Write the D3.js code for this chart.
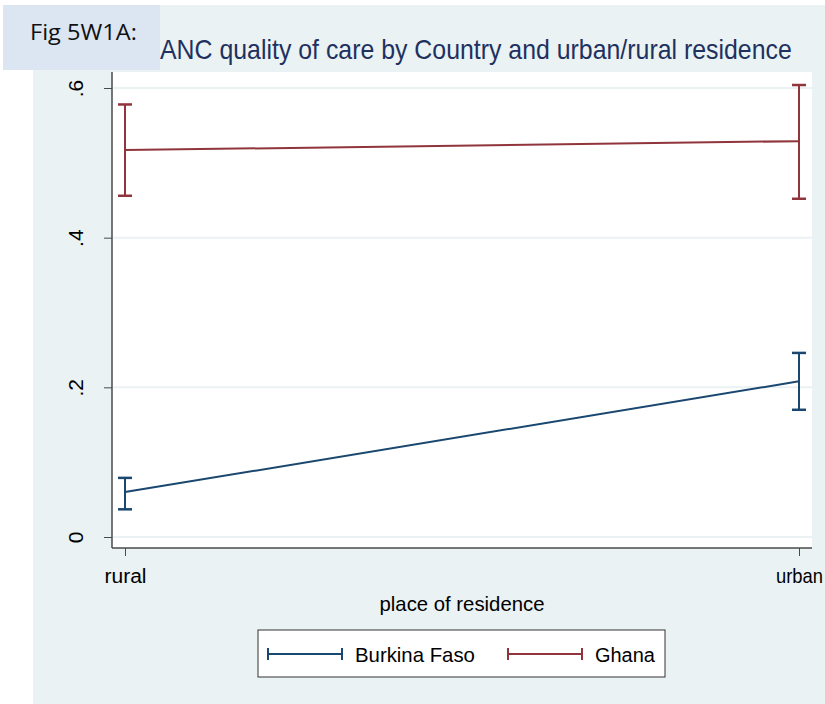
<!DOCTYPE html>
<html>
<head>
<meta charset="utf-8">
<script src="https://cdn.jsdelivr.net/npm/d3@7"></script>
<style>
  html, body { margin: 0; padding: 0; background: #ffffff; }
  svg { display: block; }
</style>
</head>
<body>
<svg id="chart" width="825" height="704"></svg>
<script>
// Residence categories on the x axis
const residence = ["rural", "urban"];

// Mean ANC quality score with 95% confidence limits, per country
const burkinaMean = [0.060, 0.208];
const burkinaLow  = [0.037, 0.170];
const burkinaHigh = [0.079, 0.246];

const ghanaMean = [0.517, 0.529];
const ghanaLow  = [0.456, 0.452];
const ghanaHigh = [0.578, 0.604];

const yTicks = [0, 0.2, 0.4, 0.6];
const yTickLabels = ["0", ".2", ".4", ".6"];

const seriesNames = ["Burkina Faso", "Ghana"];

const series = [
  { name: seriesNames[0], color: "#1a476f", mean: burkinaMean, low: burkinaLow, high: burkinaHigh },
  { name: seriesNames[1], color: "#90353b", mean: ghanaMean, low: ghanaLow, high: ghanaHigh }
];

const font = "'Liberation Sans', Arial, sans-serif";
const svg = d3.select("#chart");

// Fit a text horizontally to a target width, keeping its anchor point fixed
function fitWidth(sel, width) {
  sel.each(function () {
    const t = d3.select(this);
    const natural = this.getComputedTextLength();
    const k = width / natural;
    const ax = +t.attr("x") || 0, ay = +t.attr("y") || 0;
    const prev = t.attr("transform") || "";
    t.attr("transform", `${prev} translate(${ax},${ay}) scale(${k},1) translate(${-ax},${-ay})`);
  });
}

// Outer panel
svg.append("rect").attr("x", 33).attr("y", 5).attr("width", 792).attr("height", 699).attr("fill", "#eaf2f3");

// Plot region
const plot = { left: 112, right: 812, top: 72, bottom: 548 };
svg.append("rect")
  .attr("x", plot.left).attr("y", plot.top)
  .attr("width", plot.right - plot.left).attr("height", plot.bottom - plot.top)
  .attr("fill", "#ffffff");

const x = d3.scalePoint().domain(residence).range([125, 799]);
const y = d3.scaleLinear().domain([0, 0.6]).range([537, 88]);

// Horizontal grid lines
svg.append("g").selectAll("line").data(yTicks).join("line")
  .attr("x1", plot.left + 1).attr("x2", plot.right)
  .attr("y1", d => y(d)).attr("y2", d => y(d))
  .attr("stroke", "#eaf2f3").attr("stroke-width", 2);

// Y axis
const yAxis = svg.append("g")
  .attr("transform", `translate(${plot.left},0)`)
  .call(d3.axisLeft(y).tickValues(yTicks).tickFormat((d, i) => yTickLabels[i]).tickSize(8).tickPadding(6));
yAxis.select(".domain").attr("d", `M0,${plot.top}V${plot.bottom}`).attr("stroke", "#4a4a4a").attr("stroke-width", 1.5);
yAxis.selectAll(".tick line").attr("stroke", "#4a4a4a");
yAxis.selectAll(".tick text")
  .attr("font-family", font).attr("font-size", 21).attr("fill", "#000")
  .attr("text-anchor", "middle")
  .attr("transform", "translate(-36,0) rotate(-90)")
  .attr("x", 0).attr("dy", "0.35em").attr("y", 0);

// X axis
const xAxis = svg.append("g")
  .attr("transform", `translate(0,${plot.bottom})`)
  .call(d3.axisBottom(x).tickSize(8).tickPadding(12));
xAxis.select(".domain").attr("d", `M${plot.left},0H${plot.right}`).attr("stroke", "#4a4a4a").attr("stroke-width", 1.5);
xAxis.selectAll(".tick line").attr("stroke", "#4a4a4a");
xAxis.selectAll(".tick text").attr("font-family", font).attr("font-size", 21).attr("fill", "#000")
  .each(function (d) { fitWidth(d3.select(this), d === "rural" ? 42 : 47); });

// Axis title
svg.append("text").attr("x", 462).attr("y", 611).attr("text-anchor", "middle")
  .attr("font-family", font).attr("font-size", 21).attr("fill", "#000")
  .text("place of residence")
  .call(fitWidth, 165);

// Chart title
svg.append("text").attr("x", 160).attr("y", 59)
  .attr("font-family", font).attr("font-size", 27).attr("fill", "#1e3160")
  .text("ANC quality of care by Country and urban/rural residence")
  .call(fitWidth, 632);

// Figure tag
svg.append("rect").attr("x", 3).attr("y", 5).attr("width", 157).attr("height", 65).attr("fill", "#dce6f2");
svg.append("text").attr("x", 30).attr("y", 40)
  .attr("font-family", "'Open Sans', 'Noto Sans', sans-serif").attr("font-size", 21).attr("fill", "#111")
  .text("Fig 5W1A:")
  .call(fitWidth, 107);

// Series: connecting lines and capped confidence bars
const capHalf = 7;
const line = d3.line().x((d, i) => x(residence[i])).y(d => y(d));
series.forEach(s => {
  const g = svg.append("g");
  g.append("path").datum(s.mean).attr("d", line)
    .attr("fill", "none").attr("stroke", s.color).attr("stroke-width", 2);
  residence.forEach((r, i) => {
    const cx = x(r);
    g.append("line").attr("x1", cx).attr("x2", cx).attr("y1", y(s.low[i])).attr("y2", y(s.high[i]))
      .attr("stroke", s.color).attr("stroke-width", 2);
    [s.low[i], s.high[i]].forEach(v => {
      g.append("line").attr("x1", cx - capHalf).attr("x2", cx + capHalf).attr("y1", y(v)).attr("y2", y(v))
        .attr("stroke", s.color).attr("stroke-width", 2.5);
    });
  });
});

// Legend
const legend = svg.append("g");
legend.append("rect").attr("x", 258).attr("y", 630).attr("width", 407).attr("height", 47)
  .attr("fill", "#ffffff").attr("stroke", "#333").attr("stroke-width", 1);
const legendX = [268, 508];
const legendTextLen = [120, 60];
series.forEach((s, i) => {
  const x0 = legendX[i], x1 = x0 + 74, ly = 654;
  legend.append("line").attr("x1", x0).attr("x2", x1).attr("y1", ly).attr("y2", ly)
    .attr("stroke", s.color).attr("stroke-width", 2);
  [x0, x1].forEach(xx => legend.append("line").attr("x1", xx).attr("x2", xx).attr("y1", ly - 6).attr("y2", ly + 6)
    .attr("stroke", s.color).attr("stroke-width", 2));
  legend.append("text").attr("x", x1 + 13).attr("y", ly).attr("dy", "0.36em")
    .attr("font-family", font).attr("font-size", 21).attr("fill", "#000")
    .text(s.name)
    .call(fitWidth, legendTextLen[i]);
});
</script>
</body>
</html>
